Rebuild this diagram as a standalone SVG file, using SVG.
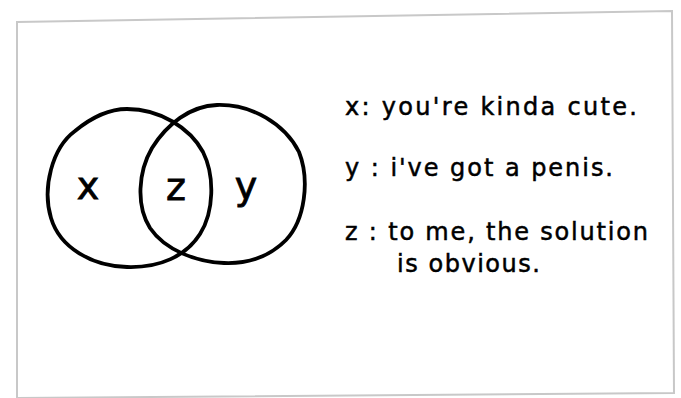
<svg xmlns="http://www.w3.org/2000/svg" width="681" height="398" viewBox="0 0 681 398">
<style>
.card{fill:#fff;stroke:#c8c8c8;stroke-width:2}
.ring{fill:none;stroke:#000;stroke-width:3.8;stroke-linejoin:round}
.lbl{font-family:"DejaVu Sans","Liberation Sans",sans-serif;font-size:38px;fill:#000;stroke:#000;stroke-width:0.8;text-anchor:middle}
.txt{font-family:"DejaVu Sans","Liberation Sans",sans-serif;font-size:24px;fill:#000;stroke:#000;stroke-width:0.5}
</style>
<rect width="681" height="398" fill="#fff"/>
<path class="card" d="M17,22 L672,11 L674,393 L17,398 Z"/>
<g id="set-x">
<path class="ring" d="M127,109 C160,109 190,128 203,152 C215,176 214,212 200,234 C186,256 160,268 127,267 C92,266 60,248 51,218 C42,188 52,148 75,131 C92,117 108,109 127,109 Z"/>
<text class="lbl" x="88" y="199">x</text>
</g>
<g id="set-y">
<path class="ring" d="M217,105 C252,104 285,124 299,152 C310,180 305,220 286,240 C268,258 248,264 224,263 C196,262 165,250 150,228 C136,206 138,172 152,148 C167,124 190,106 217,105 Z"/>
<text class="lbl" x="246" y="199">y</text>
</g>
<g id="set-z">
<text class="lbl" x="176" y="200">z</text>
</g>
<g id="connectors"></g>
<g id="legend">
<text class="txt" x="345" y="115" textLength="292" lengthAdjust="spacing">x: you're kinda cute.</text>
<text class="txt" x="345" y="176" textLength="268" lengthAdjust="spacing">y : i've got a penis.</text>
<text class="txt" x="345" y="240" textLength="303" lengthAdjust="spacing">z : to me, the solution</text>
<text class="txt" x="397" y="272" textLength="143" lengthAdjust="spacing">is obvious.</text>
</g>
</svg>
